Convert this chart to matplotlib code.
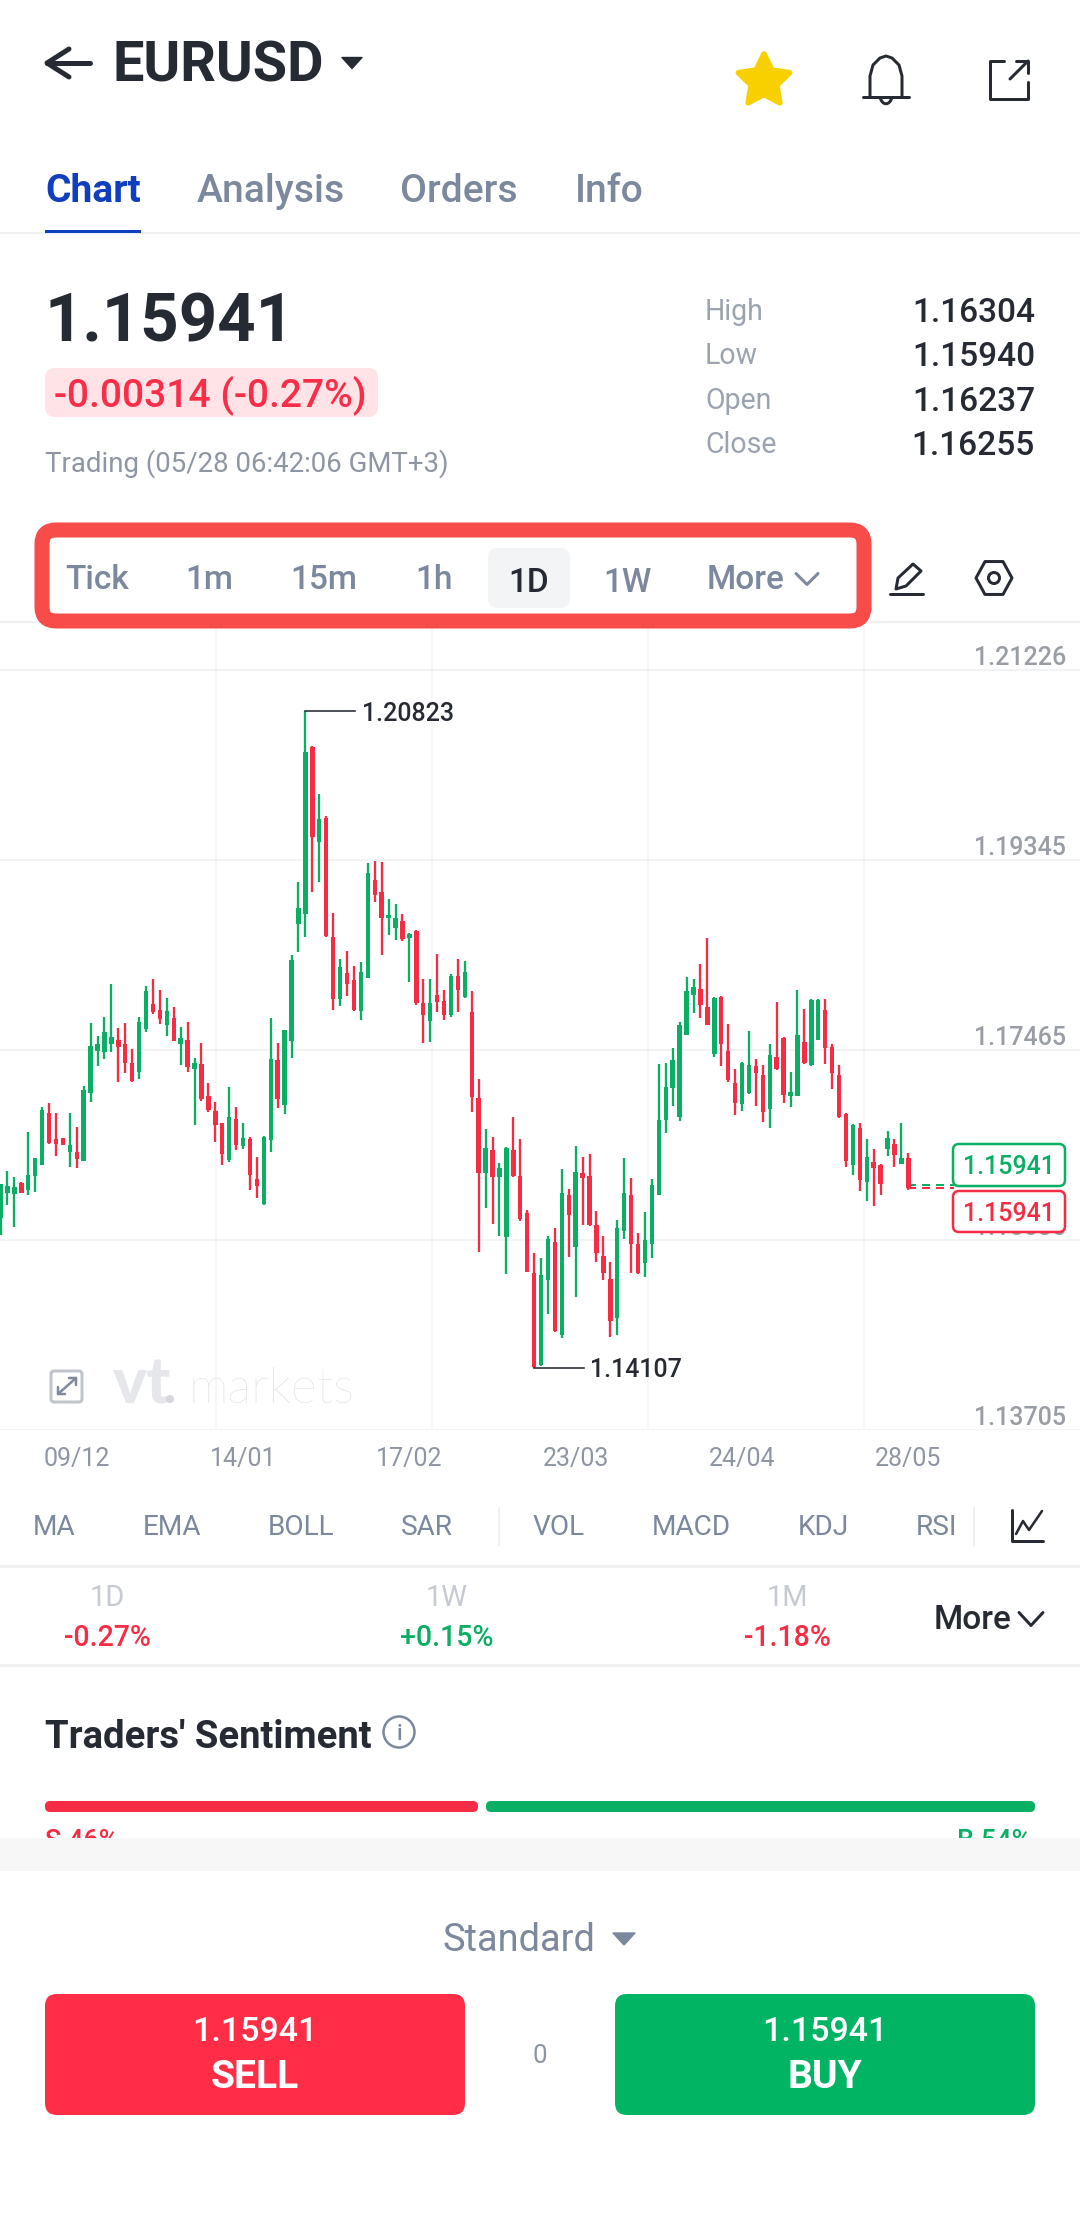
import numpy as np
import matplotlib
matplotlib.use("Agg")
import matplotlib.pyplot as plt
from matplotlib.patches import FancyBboxPatch, Polygon, Circle, Rectangle, PathPatch
from matplotlib.path import Path

plt.rcParams["font.family"] = ["Roboto", "DejaVu Sans"]

# ── Data ──────────────────────────────────────────────────────
opens = [
    1.1580, 1.1605, 1.1604, 1.1615, 1.1608, 1.1622, 1.1633, 1.1684, 1.1658, 1.1659,
    1.1646, 1.1646, 1.1637, 1.1704, 1.1746, 1.1745, 1.1752, 1.1756, 1.1752, 1.1734,
    1.1725, 1.1767, 1.1792, 1.1786, 1.1771, 1.1778, 1.1752, 1.1756, 1.1728, 1.1733,
    1.1701, 1.1686, 1.1674, 1.1638, 1.1678, 1.1652, 1.1658, 1.1619, 1.1594, 1.1657,
    1.1737, 1.1692, 1.1755, 1.1871, 1.1881, 1.2046, 1.1952, 1.1976, 1.1858, 1.1797,
    1.1823, 1.1816, 1.1785, 1.1818, 1.1915, 1.1903, 1.1877, 1.1867, 1.1874, 1.1857,
    1.1864, 1.1793, 1.1775, 1.1801, 1.1795, 1.1781, 1.1820, 1.1799, 1.1784, 1.1699,
    1.1625, 1.1648, 1.1621, 1.1561, 1.1648, 1.1622, 1.1585, 1.1526, 1.1435, 1.1519,
    1.1557, 1.1465, 1.1603, 1.1552, 1.1625, 1.1622, 1.1573, 1.1543, 1.1520, 1.1481,
    1.1567, 1.1603, 1.1555, 1.1536, 1.1555, 1.1603, 1.1677, 1.1709, 1.1680, 1.1761,
    1.1801, 1.1807, 1.1789, 1.1743, 1.1799, 1.1746, 1.1714, 1.1693, 1.1704, 1.1731,
    1.1722, 1.1688, 1.1740, 1.1758, 1.1701, 1.1701, 1.1754, 1.1732, 1.1756, 1.1786,
    1.1750, 1.1722, 1.1683, 1.1633, 1.1669, 1.1616, 1.1636, 1.1633, 1.1649, 1.1654,
    1.1634, 1.1640,
]
closes = [
    1.1614, 1.1612, 1.1611, 1.1605, 1.1623, 1.1640, 1.1687, 1.1655, 1.1654, 1.1653,
    1.1653, 1.1639, 1.1707, 1.1751, 1.1752, 1.1764, 1.1759, 1.1750, 1.1734, 1.1716,
    1.1774, 1.1805, 1.1784, 1.1777, 1.1785, 1.1755, 1.1758, 1.1730, 1.1734, 1.1698,
    1.1687, 1.1672, 1.1644, 1.1680, 1.1653, 1.1659, 1.1623, 1.1612, 1.1660, 1.1738,
    1.1698, 1.1766, 1.1836, 1.1887, 1.2041, 1.1957, 1.1975, 1.1859, 1.1797, 1.1829,
    1.1812, 1.1786, 1.1824, 1.1922, 1.1900, 1.1877, 1.1880, 1.1877, 1.1856, 1.1861,
    1.1793, 1.1781, 1.1793, 1.1794, 1.1781, 1.1820, 1.1806, 1.1824, 1.1700, 1.1625,
    1.1650, 1.1621, 1.1630, 1.1650, 1.1622, 1.1579, 1.1527, 1.1433, 1.1524, 1.1560,
    1.1468, 1.1605, 1.1583, 1.1626, 1.1620, 1.1573, 1.1546, 1.1526, 1.1478, 1.1570,
    1.1605, 1.1555, 1.1526, 1.1559, 1.1613, 1.1677, 1.1710, 1.1737, 1.1771, 1.1805,
    1.1809, 1.1791, 1.1771, 1.1798, 1.1752, 1.1717, 1.1694, 1.1734, 1.1732, 1.1724,
    1.1685, 1.1742, 1.1728, 1.1702, 1.1705, 1.1761, 1.1734, 1.1796, 1.1796, 1.1749,
    1.1724, 1.1680, 1.1637, 1.1672, 1.1618, 1.1641, 1.1630, 1.1614, 1.1659, 1.1643,
    1.1640, 1.1610,
]
highs = [
    1.1614, 1.1627, 1.1621, 1.1616, 1.1665, 1.1640, 1.1690, 1.1694, 1.1684, 1.1659,
    1.1684, 1.1670, 1.1711, 1.1773, 1.1760, 1.1779, 1.1812, 1.1768, 1.1773, 1.1748,
    1.1779, 1.1810, 1.1817, 1.1806, 1.1798, 1.1789, 1.1769, 1.1774, 1.1739, 1.1753,
    1.1714, 1.1695, 1.1674, 1.1710, 1.1690, 1.1674, 1.1660, 1.1641, 1.1661, 1.1778,
    1.1753, 1.1766, 1.1841, 1.1913, 1.2082, 1.2047, 1.2000, 1.1978, 1.1882, 1.1837,
    1.1845, 1.1830, 1.1834, 1.1932, 1.1934, 1.1933, 1.1896, 1.1891, 1.1881, 1.1862,
    1.1865, 1.1817, 1.1817, 1.1842, 1.1806, 1.1822, 1.1837, 1.1835, 1.1805, 1.1718,
    1.1668, 1.1660, 1.1635, 1.1651, 1.1680, 1.1658, 1.1588, 1.1546, 1.1541, 1.1562,
    1.1570, 1.1629, 1.1609, 1.1652, 1.1641, 1.1644, 1.1587, 1.1562, 1.1537, 1.1578,
    1.1640, 1.1620, 1.1565, 1.1586, 1.1619, 1.1733, 1.1734, 1.1749, 1.1774, 1.1819,
    1.1817, 1.1832, 1.1857, 1.1799, 1.1800, 1.1772, 1.1728, 1.1735, 1.1765, 1.1738,
    1.1732, 1.1752, 1.1794, 1.1759, 1.1725, 1.1806, 1.1787, 1.1797, 1.1797, 1.1797,
    1.1752, 1.1732, 1.1684, 1.1673, 1.1674, 1.1658, 1.1649, 1.1634, 1.1666, 1.1658,
    1.1674, 1.1645,
]
lows = [
    1.1563, 1.1593, 1.1571, 1.1605, 1.1603, 1.1606, 1.1633, 1.1654, 1.1642, 1.1653,
    1.1631, 1.1630, 1.1637, 1.1695, 1.1731, 1.1738, 1.1745, 1.1715, 1.1724, 1.1715,
    1.1718, 1.1764, 1.1782, 1.1772, 1.1760, 1.1755, 1.1732, 1.1725, 1.1672, 1.1696,
    1.1685, 1.1656, 1.1633, 1.1636, 1.1648, 1.1649, 1.1608, 1.1600, 1.1593, 1.1646,
    1.1689, 1.1683, 1.1739, 1.1844, 1.1858, 1.1903, 1.1913, 1.1858, 1.1786, 1.1790,
    1.1800, 1.1785, 1.1776, 1.1818, 1.1893, 1.1841, 1.1860, 1.1855, 1.1854, 1.1814,
    1.1791, 1.1753, 1.1754, 1.1784, 1.1776, 1.1779, 1.1784, 1.1798, 1.1685, 1.1547,
    1.1590, 1.1574, 1.1562, 1.1525, 1.1621, 1.1577, 1.1527, 1.1432, 1.1434, 1.1485,
    1.1467, 1.1462, 1.1542, 1.1502, 1.1573, 1.1572, 1.1537, 1.1519, 1.1463, 1.1465,
    1.1560, 1.1526, 1.1525, 1.1522, 1.1541, 1.1603, 1.1664, 1.1691, 1.1676, 1.1761,
    1.1783, 1.1778, 1.1771, 1.1740, 1.1731, 1.1715, 1.1682, 1.1686, 1.1703, 1.1691,
    1.1675, 1.1669, 1.1727, 1.1694, 1.1690, 1.1701, 1.1733, 1.1731, 1.1756, 1.1733,
    1.1708, 1.1679, 1.1631, 1.1623, 1.1607, 1.1597, 1.1592, 1.1603, 1.1642, 1.1631,
    1.1634, 1.1608,
]
axis_levels = [1.21226, 1.19345, 1.17465, 1.15585, 1.13705]
axis_labels = ["1.21226", "1.19345", "1.17465", "1.15585", "1.13705"]
date_positions = [11, 35, 59, 83, 107, 131]
date_labels = ["09/12", "14/01", "17/02", "23/03", "24/04", "28/05"]
high_label = "1.20823"
low_label = "1.14107"
last_price = "1.15941"

intervals = ["Tick", "1m", "15m", "1h", "1D", "1W"]
indicators = ["MA", "EMA", "BOLL", "SAR", "VOL", "MACD", "KDJ", "RSI"]
stat_names = ["High", "Low", "Open", "Close"]
stat_values = ["1.16304", "1.15940", "1.16237", "1.16255"]
periods = ["1D", "1W", "1M"]
period_changes = ["-0.27%", "+0.15%", "-1.18%"]

# ── Style ─────────────────────────────────────────────────────
GREEN = "#0BAF63"
RED = "#F62C45"
DARK = "#262A33"
SLATE = "#7C889D"
GREY = "#8F96A3"
LINE = "#EFF0F2"
W, H = 1080, 2226
PX = 0.72  # px to pt at dpi 100

fig = plt.figure(figsize=(W / 100, H / 100), dpi=100, facecolor="white")

# ── Candlesticks ──────────────────────────────────────────────
top_px, bot_px = 622, 1430
ax = fig.add_axes([0, 1 - bot_px / H, 1, (bot_px - top_px) / H], zorder=1)
ax.patch.set_visible(False)
for s in ax.spines.values():
    s.set_visible(False)

o, c, hi, lo = map(np.array, (opens, closes, highs, lows))
idx = np.arange(len(o))
cols = np.where(c >= o, GREEN, RED)
ax.vlines(idx, lo, hi, colors=cols, linewidth=2.3 * PX, zorder=3)
ax.bar(idx, c - o, bottom=o, width=0.64, color=cols, zorder=3)

step = 6.93
x0, x1 = -0.5 / step, (W - 0.5) / step
per_px = (axis_levels[0] - axis_levels[-1]) / 760
ax.set_xlim(x0, x1)
ax.set_ylim(axis_levels[-1], axis_levels[-1] + per_px * (bot_px - top_px))

ax.yaxis.tick_right()
ax.set_yticks(axis_levels, axis_labels)
ax.tick_params(axis="y", length=0, pad=-14 * PX, labelsize=25 * PX, labelcolor="#999DA5")
for t in ax.get_yticklabels():
    t.set_ha("right")
    t.set_va("bottom")
    t.set_fontweight("medium")
ax.set_xticks(date_positions, date_labels)
ax.tick_params(axis="x", length=0, pad=17 * PX, labelsize=25 * PX, labelcolor=GREY)
ax.grid(axis="y", color=LINE, lw=1.5 * PX, zorder=0)
for k in range(1, 5):
    ax.axvline(x0 + (x1 - x0) * k / 5, color="#F4F5F6", lw=1.5 * PX, zorder=0)

# high / low callouts
i_hi, i_lo = int(hi.argmax()), int(lo.argmin())
ax.plot([i_hi, i_hi + 7.2], [hi[i_hi]] * 2, color=DARK, lw=1.6 * PX, zorder=4)
ax.plot([i_lo, i_lo + 7.2], [lo[i_lo]] * 2, color=DARK, lw=1.6 * PX, zorder=4)
ax.text(i_hi + 8.1, hi[i_hi], high_label, fontsize=25 * PX, color=DARK,
        fontweight="medium", va="center_baseline")
ax.text(i_lo + 8.1, lo[i_lo], low_label, fontsize=25 * PX, color=DARK,
        fontweight="medium", va="center_baseline")

# last price dashes
box_x = 953 / step
ax.plot([idx[-1], box_x], [c[-1] + 0.0003] * 2, color=GREEN, lw=2 * PX, ls=(0, (4, 3)), zorder=2)
ax.plot([idx[-1], box_x], [c[-1]] * 2, color=RED, lw=2 * PX, ls=(0, (4, 3)), zorder=2)

# ── Screen overlay, in pixels ─────────────────────────────────
ui = fig.add_axes([0, 0, 1, 1], zorder=2)
ui.patch.set_visible(False)
ui.set_xlim(0, W)
ui.set_ylim(H, 0)
ui.axis("off")


def txt(x, y, s, size, color=DARK, weight="normal", ha="left", z=5, **kw):
    # y is the middle of the capitals, so rows keep one baseline
    ui.text(x, y + 0.355 * size, s, fontsize=size * PX, color=color, fontweight=weight,
            ha=ha, va="baseline", zorder=z, **kw)


def rbox(x1, y1, x2, y2, r, fc="none", ec="none", lw=0, z=3):
    ui.add_patch(FancyBboxPatch((x1 + r, y1 + r), x2 - x1 - 2 * r, y2 - y1 - 2 * r,
                                boxstyle=f"round,pad={r},rounding_size={r}",
                                fc=fc, ec=ec, lw=lw * PX, zorder=z))


def stroke(xs, ys, color=DARK, lw=3, z=5):
    ui.plot(xs, ys, color=color, lw=lw * PX, solid_capstyle="round",
            solid_joinstyle="round", zorder=z)


def tri(cx, cy, w, h, color):
    ui.add_patch(Polygon([(cx - w / 2, cy - h / 2), (cx + w / 2, cy - h / 2), (cx, cy + h / 2)],
                         fc=color, ec=color, lw=1, joinstyle="round", zorder=5))


def chevron(cx, cy, w, h, color, lw=3):
    stroke([cx - w / 2, cx, cx + w / 2], [cy - h / 2, cy + h / 2, cy - h / 2], color, lw)


# header
stroke([90, 47], [63, 63], DARK, 5)
stroke([69, 47, 69], [49, 63, 77], DARK, 5)
txt(113, 62, "EURUSD", 56, DARK, "bold")
tri(352, 63, 20, 11, DARK)

star = [(764 + (27 if k % 2 == 0 else 13.5) * np.sin(k * np.pi / 5),
         81 - (27 if k % 2 == 0 else 13.5) * np.cos(k * np.pi / 5)) for k in range(10)]
ui.add_patch(Polygon(star, fc="#F8D000", ec="#F8D000", lw=4, joinstyle="round", zorder=5))

stroke([863, 909], [97, 97], DARK, 3)
stroke([870, 870, 873, 880, 886, 892, 899, 902, 902],
       [97, 76, 65, 58, 56, 58, 65, 76, 97], DARK, 3)
ui.add_patch(PathPatch(Path([(880, 97), (882, 106), (890, 106), (892, 97)],
                            [Path.MOVETO, Path.CURVE4, Path.CURVE4, Path.CURVE4]),
                       fc="none", ec=DARK, lw=3 * PX, zorder=5))
stroke([1004, 990, 990, 1028, 1028], [61, 61, 99, 99, 82], DARK, 3)
stroke([1010, 1028], [79, 61], DARK, 3)
stroke([1016, 1028, 1028], [61, 61, 73], DARK, 3)

# tabs
txt(45, 188, "Chart", 39, "#0F3EBE", "bold")
for x, s in zip((197, 400, 575), ("Analysis", "Orders", "Info")):
    txt(x, 188, s, 39, SLATE, "medium")
ui.add_patch(Rectangle((45, 229.5), 96, 3.5, fc="#0F3EBE", zorder=5))
ui.plot([0, W], [233, 233], color=LINE, lw=2 * PX, zorder=2)

# quote block
txt(45, 318, last_price, 67, DARK, "bold")
rbox(45, 368, 378, 417, 10, fc="#FFE3E6")
txt(54, 392, "-0.00314 (-0.27%)", 39, "#F92D48", "medium")
txt(45, 462, "Trading (05/28 06:42:06 GMT+3)", 27.6, GREY)
for y, name, val in zip((310, 354, 399, 443), stat_names, stat_values):
    txt(705, y, name, 28.5, "#9BA3B1")
    txt(1035, y, val, 33.5, DARK, "medium", ha="right")

# interval selector with the red frame
rbox(42, 530, 864, 621, 14, ec="#F74C4A", lw=15, z=4)
rbox(488, 548, 570, 608, 10, fc="#F3F4F6")
for x, y, s in zip((97, 209, 324, 434, 529, 627), (577, 577, 577, 577, 580, 580), intervals):
    txt(x, y, s, 33.5, DARK if s == "1D" else SLATE, "medium", ha="center")
txt(707, 577, "More", 33.5, SLATE, "medium")
chevron(807, 579, 22, 11, SLATE)

stroke([890, 923], [594, 594], DARK, 3)
ui.add_patch(Polygon([(896, 589), (898, 578), (913, 564), (921, 571), (906, 586)], fc="none", ec=DARK,
                     lw=3 * PX, joinstyle="round", zorder=5))
hexa = [(994 + 18 * np.cos(a), 578 + 19 * np.sin(a)) for a in np.arange(6) * np.pi / 3]
ui.add_patch(Polygon(hexa, fc="none", ec=DARK, lw=3 * PX, joinstyle="round", zorder=5))
ui.add_patch(Circle((994, 578), 5.5, fc="none", ec=DARK, lw=3 * PX, zorder=5))
ui.plot([0, W], [622, 622], color=LINE, lw=2 * PX, zorder=2)

# last price boxes sit on top of the axis labels
rbox(953, 1144, 1065, 1186, 6, fc="white", ec=GREEN, lw=2.5)
rbox(953, 1191, 1065, 1232, 6, fc="white", ec=RED, lw=2.5)
txt(1009, 1165, last_price, 25, GREEN, "medium", ha="center")
txt(1009, 1212, last_price, 25, RED, "medium", ha="center")

# expand icon and watermark
rbox(51, 1371, 82, 1402, 3, ec="#C0C4CC", lw=3)
stroke([58, 76], [1394, 1378], "#8088A0", 2.5)
stroke([58, 58, 65], [1387, 1394, 1394], "#8088A0", 2.5)
stroke([69, 76, 76], [1378, 1378, 1385], "#8088A0", 2.5)
ui.text(113, 1403, "vt", fontsize=64 * PX, color="#E6E7EA", fontweight="black",
        family=["Lato", "DejaVu Sans"], va="baseline", zorder=2)
ui.add_patch(Circle((170, 1399), 4, fc="#D5D7DB", ec="none", zorder=2))
ui.text(188, 1403, "markets", fontsize=50 * PX, color="#D8DAE0", fontweight="light",
        family=["Lato", "DejaVu Sans"], va="baseline", zorder=2)

# indicators row
for x, s in zip((54, 172, 301, 427, 559, 691, 823, 936), indicators):
    txt(x, 1525, s, 28, SLATE, ha="center")
for x in (499, 974):
    ui.plot([x, x], [1508, 1545], color=LINE, lw=2 * PX, zorder=2)
stroke([1012, 1012, 1043], [1510, 1541, 1541], DARK, 3)
stroke([1016, 1023, 1029, 1042], [1534, 1521, 1530, 1511], DARK, 2.5)
ui.plot([0, W], [1566, 1566], color=LINE, lw=3 * PX, zorder=2)

# period changes
for x, p, ch in zip((107, 447, 787), periods, period_changes):
    txt(x, 1596, p, 29, "#C5CAD3", ha="center")
    txt(x, 1636, ch, 28.5, GREEN if ch[0] == "+" else RED, "medium", ha="center")
txt(934, 1617, "More", 33.5, DARK, "medium")
chevron(1031, 1619, 24, 13, DARK)
ui.plot([0, W], [1665, 1665], color=LINE, lw=3 * PX, zorder=2)

# sentiment
txt(45, 1734, "Traders' Sentiment", 38.2, DARK, "bold")
ui.add_patch(Circle((399, 1732), 15.5, fc="none", ec=SLATE, lw=2.5 * PX, zorder=5))
txt(399, 1732, "i", 22, SLATE, "medium", ha="center")
rbox(45, 1801, 478, 1812, 5, fc=RED)
rbox(486, 1801, 1035, 1812, 5, fc=GREEN)
txt(45, 1839, "S 46%", 27, RED, "medium", z=2)
txt(1031, 1839, "B 54%", 27, GREEN, "medium", ha="right", z=2)

# order panel
ui.add_patch(Rectangle((0, 1838), W, 33, fc="#F7F7F8", zorder=3))
ui.add_patch(Rectangle((0, 1871), W, H - 1871, fc="white", zorder=3))
txt(443, 1938, "Standard", 38, SLATE)
tri(624, 1939, 22, 12, SLATE)
rbox(45, 1994, 465, 2115, 12, fc="#FF2D46", z=4)
rbox(615, 1994, 1035, 2115, 12, fc="#00B464", z=4)
for x, s in zip((255, 825), ("SELL", "BUY")):
    txt(x, 2029, last_price, 34, "white", "medium", ha="center")
    txt(x, 2074, s, 39, "white", "bold", ha="center")
txt(540, 2054, "0", 26, GREY, ha="center")

fig.savefig("out.png", dpi=100, facecolor="white")
plt.close(fig)
